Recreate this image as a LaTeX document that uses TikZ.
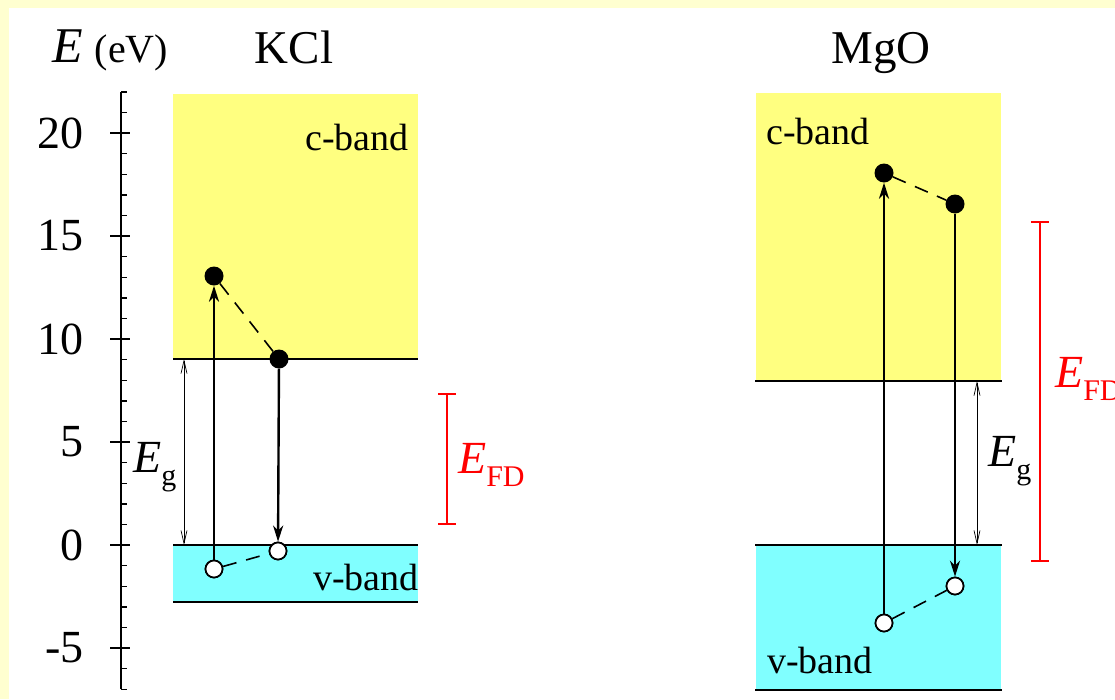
\documentclass[tikz,border=0pt]{standalone}
\usepackage{fontspec}
\setmainfont{Liberation Serif}
\usetikzlibrary{arrows.meta}
\definecolor{bgy}{RGB}{255,255,208}
\definecolor{cbandcol}{RGB}{255,255,128}
\definecolor{vbandcol}{RGB}{128,255,255}
\definecolor{efdcol}{RGB}{255,0,0}
\newcommand{\fs}[1]{\fontsize{#1}{#1}\selectfont}
\begin{document}
\begin{tikzpicture}[x=1pt,y=-1pt,
  elec/.style={circle,fill=black,minimum size=19pt,inner sep=0pt},
  hole/.style={circle,draw=black,fill=white,line width=1.7pt,minimum size=17pt,inner sep=0pt},
  trans/.style={line width=2.4pt,-{Stealth[length=16pt,width=10pt,inset=5pt]}},
  hop/.style={line width=1.6pt,dash pattern=on 14pt off 10pt},
  gaparrow/.style={line width=0.7pt,{Straight Barb[length=13pt,width=6pt]}-{Straight Barb[length=13pt,width=6pt]}},
  bandedge/.style={line width=2.4pt},
  fdbar/.style={draw=efdcol,line width=2.2pt},
  ticklab/.style={font=\fs{46},anchor=east,inner sep=0pt},
  bandlab/.style={font=\fs{38},anchor=base west,inner sep=0pt},
  title/.style={font=\fs{47},anchor=base,inner sep=0pt},
  symlab/.style={anchor=base west,inner sep=0pt}
]
\useasboundingbox (0,0) rectangle (1115,699);
\clip (0,0) rectangle (1115,699);
\fill[bgy] (0,0) rectangle (1115,699);
\fill[white] (9,8) rectangle (1115,699);

% axis
\draw[line width=1.4pt] (121,{545-20.6*22}) -- (121,{545+20.6*7});
\foreach \e in {-7,...,22} \draw[line width=1.4pt] (121,{545-20.6*\e}) -- (127,{545-20.6*\e});
\foreach \e in {-5,0,5,10,15,20} {
  \draw[line width=1.4pt] (110,{545-20.6*\e}) -- (130,{545-20.6*\e});
  \node[ticklab] (t\e) at (84,{545-20.6*\e}) {\e};
}
\node[symlab] (axlab) at (52,62) {\fs{50}\textit{E}\hspace{12pt}\fs{40}(eV)};

% titles
\node[title] (kcl) at (294,63) {KCl};
\node[title] (mgo) at (881,63) {MgO};

% ---- KCl ----
\fill[cbandcol] (173,94) rectangle (418,359);
\fill[vbandcol] (173,545) rectangle (418,602);
\draw[bandedge] (173,359) -- (418,359);
\draw[bandedge] (173,545) -- (418,545);
\draw[bandedge] (173,602) -- (418,602);
\node[bandlab] (kc) at (305,150) {c-band};
\node[bandlab] (kv) at (313,590) {v-band};

\coordinate (kg1) at (184,359);
\coordinate (kg2) at (184,545);
\draw[gaparrow] (kg1) -- (kg2);
\node[symlab] (kegl) at (133,472) {\fs{46}\textit{E}\raisebox{-13pt}{\fs{30}g}};

\node[elec] (ke1) at (214,276) {};
\node[elec] (ke2) at (279,359) {};
\node[hole] (kh1) at (214,569) {};
\node[hole] (kh2) at (278,551) {};
\draw[trans] (kh1) -- (ke1);
\draw[trans] (ke2) -- (kh2);
\draw[hop] (ke1) -- (ke2);
\draw[hop] (kh1) -- (kh2);
\node[hole] at (214,569) {};
\node[hole] at (278,551) {};

\coordinate (kf1) at (447,394);
\coordinate (kf2) at (447,524);
\draw[fdbar] (kf1) -- (kf2);
\draw[fdbar] ([xshift=-9pt]kf1) -- ([xshift=9pt]kf1);
\draw[fdbar] ([xshift=-9pt]kf2) -- ([xshift=9pt]kf2);
\node[symlab,text=efdcol] (kfdl) at (458,473) {\fs{46}\textit{E}\raisebox{-13pt}{\fs{30}FD}};

% ---- MgO ----
\fill[cbandcol] (756,93) rectangle (1001,381);
\fill[vbandcol] (756,545) rectangle (1001,690);
\draw[bandedge] (755,381) -- (1002,381);
\draw[bandedge] (755,545) -- (1002,545);
\draw[bandedge] (755,690) -- (1002,690);
\node[bandlab] (mc) at (766,144) {c-band};
\node[bandlab] (mv) at (767,673) {v-band};

\coordinate (mg1) at (977,381);
\coordinate (mg2) at (977,545);
\draw[gaparrow] (mg1) -- (mg2);
\node[symlab] (megl) at (988,466) {\fs{46}\textit{E}\raisebox{-13pt}{\fs{30}g}};

\node[elec] (me1) at (884,173) {};
\node[elec] (me2) at (955,204) {};
\node[hole] (mh1) at (884,623) {};
\node[hole] (mh2) at (955,586) {};
\draw[trans] (mh1) -- (me1);
\draw[trans] (me2) -- (mh2);
\draw[hop] (me1) -- (me2);
\draw[hop] (mh1) -- (mh2);
\node[hole] at (884,623) {};
\node[hole] at (955,586) {};

\coordinate (mf1) at (1040,222);
\coordinate (mf2) at (1040,561);
\draw[fdbar] (mf1) -- (mf2);
\draw[fdbar] ([xshift=-9pt]mf1) -- ([xshift=9pt]mf1);
\draw[fdbar] ([xshift=-9pt]mf2) -- ([xshift=9pt]mf2);
\node[symlab,text=efdcol] (mfdl) at (1055,387) {\fs{46}\textit{E}\raisebox{-13pt}{\fs{30}FD}};
\end{tikzpicture}
\end{document}
